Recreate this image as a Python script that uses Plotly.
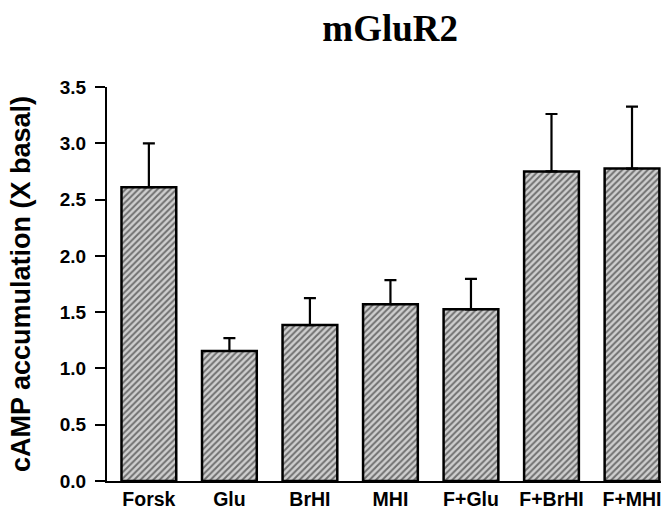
import plotly.graph_objects as go

categories = ["Forsk", "Glu", "BrHI", "MHI", "F+Glu", "F+BrHI", "F+MHI"]
means = [2.61, 1.155, 1.385, 1.57, 1.525, 2.75, 2.775]
errors = [0.39, 0.115, 0.24, 0.215, 0.27, 0.51, 0.55]
y_ticks = [0.0, 0.5, 1.0, 1.5, 2.0, 2.5, 3.0, 3.5]
title_text = "mGluR2"
y_title = "cAMP accumulation (X basal)"

fig = go.Figure()
fig.add_trace(go.Bar(
    x=list(range(len(categories))),
    y=means,
    width=0.68,
    marker=dict(
        color="#c0c0c0",
        line=dict(color="black", width=2.5),
        pattern=dict(shape="/", fgcolor="#111111", bgcolor="#cfcfcf", size=4.5, solidity=0.45),
    ),
    error_y=dict(type="data", array=errors, arrayminus=[0] * len(errors), symmetric=False,
                 color="black", thickness=2.2, width=6),
))

fig.update_layout(
    width=667, height=513,
    margin=dict(l=107, r=6, t=87, b=32, autoexpand=False),
    paper_bgcolor="white", plot_bgcolor="white",
    showlegend=False,
    title=dict(text=title_text, x=0.585, xanchor="center", y=0.945, yanchor="middle",
               font=dict(family="Liberation Serif", size=37, color="black", weight="bold")),
    font=dict(family="Liberation Sans", color="black"),
)
fig.update_xaxes(
    range=[-0.52, 6.36], automargin=False,
    tickmode="array", tickvals=list(range(len(categories))), ticktext=categories,
    showline=True, linecolor="black", linewidth=2, ticks="", showgrid=False, zeroline=False,
    ticklabelstandoff=0,
    tickfont=dict(family="Liberation Sans", size=19.5, color="black", weight="bold"),
)
fig.update_yaxes(
    range=[0, 3.5], automargin=False,
    tickmode="array", tickvals=y_ticks, ticktext=[f"{v:.1f}" for v in y_ticks],
    showline=True, linecolor="black", linewidth=2, ticks="outside", ticklen=10, tickwidth=2,
    tickcolor="black", showgrid=False, zeroline=False, ticklabelstandoff=5,
    tickfont=dict(family="Liberation Sans", size=19, color="black", weight="bold"),
    title=dict(text=y_title, standoff=21,
               font=dict(family="Liberation Sans", size=27, color="black", weight="bold")),
)

fig.write_html("out.html")
